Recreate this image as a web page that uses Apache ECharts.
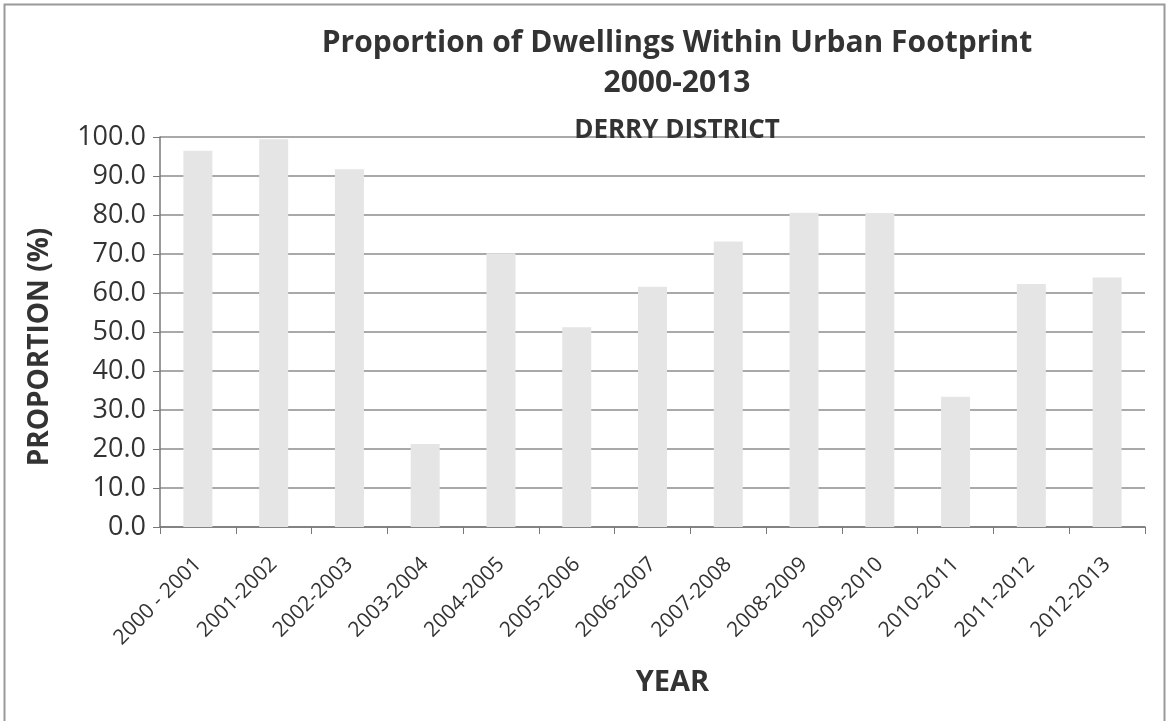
<!DOCTYPE html>
<html>
<head>
<meta charset="utf-8">
<script src="https://cdn.jsdelivr.net/npm/echarts@6/dist/echarts.min.js"></script>
<style>
  html, body { margin: 0; padding: 0; background: #fff; }
  #chart { width: 1166px; height: 721px; }
</style>
</head>
<body>
<div id="chart"></div>
<script>
var years = ['2000 - 2001', '2001-2002', '2002-2003', '2003-2004', '2004-2005', '2005-2006', '2006-2007',
  '2007-2008', '2008-2009', '2009-2010', '2010-2011', '2011-2012', '2012-2013']
var proportion = [96.5, 99.4, 91.7, 21.3, 70.2, 51.2, 61.6, 73.2, 80.6, 80.5, 33.4, 62.3, 64.0]
var titleLines = ['Proportion of Dwellings Within Urban Footprint', '2000-2013', 'DERRY DISTRICT']

var font = '"Open Sans", "Liberation Sans", sans-serif'
var dom = echarts.init(document.getElementById('chart'))

// per-line placement of the three title lines
var titleTop = [23, 63, 113]
var titleSize = [30, 30, 26]

var option = {
  animation: false,
  title: titleLines.map(function (t, i) {
    return {
      text: t,
      left: 672,
      top: titleTop[i],
      textAlign: 'center',
      textStyle: { fontFamily: font, fontSize: titleSize[i], fontWeight: 'bold', color: '#333' }
    }
  }),
  graphic: [{
    type: 'rect',
    shape: { x: 4.5, y: 4.5, width: 1160, height: 760 },
    style: { fill: 'none', stroke: '#9a9a9a', lineWidth: 2 },
    silent: true
  }],
  grid: {
    left: 160,
    right: 21,
    top: 137,
    bottom: 194
  },
  xAxis: {
    type: 'category',
    data: years,
    name: 'YEAR',
    nameLocation: 'middle',
    nameGap: 141,
    nameTextStyle: { fontFamily: font, fontSize: 29, fontWeight: 'bold', color: '#333', padding: [0, 0, 0, 40] },
    axisLine: { lineStyle: { color: '#777', width: 1.5 } },
    axisTick: { show: true, length: 7, lineStyle: { color: '#777' } },
    axisLabel: {
      rotate: 45,
      margin: 34,
      interval: 0,
      fontFamily: font,
      fontSize: 21,
      color: '#333'
    }
  },
  yAxis: {
    type: 'value',
    min: 0,
    max: 100,
    interval: 10,
    name: 'PROPORTION (%)',
    nameLocation: 'middle',
    nameGap: 106,
    nameTextStyle: { fontFamily: font, fontSize: 28, fontWeight: 'bold', color: '#333', padding: [0, 30, 0, 0] },
    axisLine: { show: true, lineStyle: { color: '#777', width: 1.5 } },
    axisTick: { show: true, length: 7, lineStyle: { color: '#777' } },
    axisLabel: {
      margin: 14,
      fontFamily: font,
      fontSize: 27,
      color: '#333',
      formatter: function (v) { return v.toFixed(1) }
    },
    splitLine: { show: true, lineStyle: { color: '#8c8c8c', width: 1.5 } }
  },
  series: [{
    name: 'Proportion',
    type: 'bar',
    data: proportion,
    barWidth: 29,
    itemStyle: { color: '#e5e5e5' }
  }]
}

dom.setOption(option)
window.addEventListener('resize', function () { dom.resize() })
</script>
</body>
</html>
